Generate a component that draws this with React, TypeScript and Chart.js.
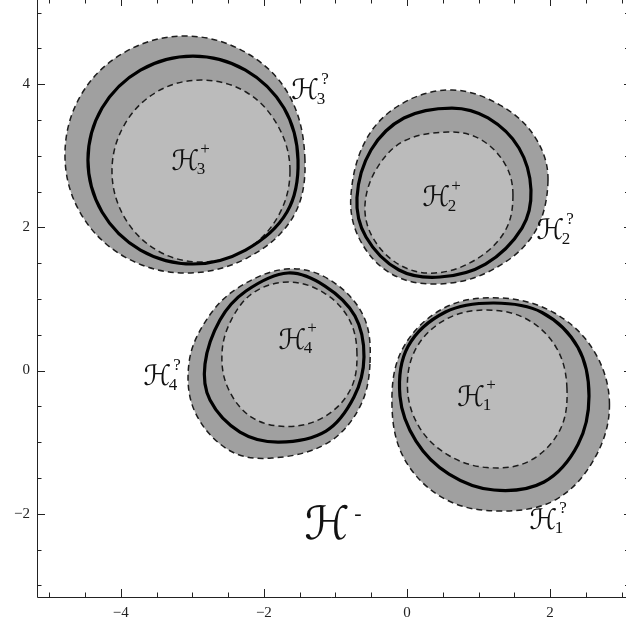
import React, { useEffect, useRef } from 'react';
import { Chart, registerables } from 'chart.js';

Chart.register(...registerables);

// Axis ranges and ticks
const xRange = [-5.171, 3.061];
const yRange = [-3.163, 5.175];
const xLabelTicks = [-4, -2, 0, 2];
const yLabelTicks = [-2, 0, 2, 4];
const xMinorTicks = [-5, -4.5, -3.5, -3, -2.5, -1.5, -1, -0.5, 0.5, 1, 1.5, 2.5, 3];
const yMinorTicks = [-3, -2.5, -1.5, -1, -0.5, 0.5, 1, 1.5, 2.5, 3, 3.5, 4.5, 5];

// Region 1 (lower right)
const blob1Outer: number[][] = [
  [2.83, -0.475], [2.614, 0.272], [2.055, 0.807], [1.314, 1.013], [0.531, 0.88], [-0.056, 0.314],
  [-0.21, -0.475], [-0.028, -1.25], [0.545, -1.802], [1.314, -1.962], [2.082, -1.802], [2.621, -1.229],
];
const blob1Solid: number[][] = [
  [2.544, -0.356], [2.39, 0.321], [1.887, 0.811], [1.216, 0.943], [0.538, 0.817], [0.014, 0.335],
  [-0.098, -0.356], [0.126, -0.985], [0.587, -1.446], [1.216, -1.669], [1.915, -1.557], [2.39, -1.034],
];
const blob1Inner: number[][] = [
  [2.236, -0.251], [2.092, 0.311], [1.677, 0.716], [1.118, 0.845], [0.556, 0.722], [0.131, 0.317],
  [0.007, -0.251], [0.175, -0.796], [0.58, -1.183], [1.118, -1.355], [1.705, -1.267], [2.134, -0.838],
];

// Region 2 (upper right)
const blob2Outer: number[][] = [
  [1.971, 2.661], [1.789, 3.261], [1.3, 3.708], [0.629, 3.918], [-0.056, 3.736], [-0.559, 3.247],
  [-0.783, 2.451], [-0.671, 1.851], [-0.238, 1.362], [0.391, 1.208], [1.132, 1.376], [1.761, 1.892],
];
const blob2Solid: number[][] = [
  [1.733, 2.521], [1.565, 3.108], [1.132, 3.527], [0.629, 3.666], [-0.042, 3.527], [-0.503, 3.08],
  [-0.699, 2.416], [-0.573, 1.865], [-0.112, 1.404], [0.461, 1.306], [1.097, 1.487], [1.607, 1.99],
];
const blob2Inner: number[][] = [
  [1.481, 2.451], [1.37, 2.884], [1.02, 3.233], [0.573, 3.331], [-0.042, 3.205], [-0.419, 2.828],
  [-0.587, 2.311], [-0.475, 1.851], [-0.098, 1.473], [0.391, 1.362], [0.95, 1.543], [1.37, 1.948],
];

// Region 3 (upper left)
const blob3Outer: number[][] = [
  [-1.426, 2.94], [-1.649, 3.848], [-2.264, 4.448], [-3.103, 4.672], [-3.941, 4.448], [-4.556, 3.848],
  [-4.78, 3.01], [-4.556, 2.186], [-3.941, 1.585], [-3.103, 1.362], [-2.236, 1.571], [-1.593, 2.144],
];
const blob3Solid: number[][] = [
  [-1.523, 2.94], [-1.719, 3.666], [-2.257, 4.197], [-2.991, 4.392], [-3.725, 4.197], [-4.262, 3.666],
  [-4.459, 2.94], [-4.262, 2.214], [-3.725, 1.683], [-2.991, 1.488], [-2.257, 1.683], [-1.677, 2.214],
];
const blob3Inner: number[][] = [
  [-1.635, 2.786], [-1.803, 3.415], [-2.25, 3.89], [-2.879, 4.057], [-3.501, 3.89], [-3.955, 3.422],
  [-4.123, 2.786], [-3.955, 2.151], [-3.501, 1.683], [-2.879, 1.515], [-2.257, 1.683], [-1.803, 2.151],
];

// Region 4 (middle)
const blob4Outer: number[][] = [
  [-0.517, 0.105], [-0.615, 0.775], [-1.097, 1.278], [-1.691, 1.418], [-2.376, 1.145], [-2.809, 0.698],
  [-3.047, 0.105], [-2.963, -0.579], [-2.481, -1.117], [-1.887, -1.222], [-1.125, -1.02], [-0.671, -0.531],
];
const blob4Solid: number[][] = [
  [-0.601, 0.189], [-0.727, 0.761], [-1.146, 1.18], [-1.663, 1.362], [-2.25, 1.11], [-2.614, 0.705],
  [-2.823, 0.091], [-2.753, -0.412], [-2.334, -0.859], [-1.789, -0.999], [-1.132, -0.845], [-0.741, -0.37],
];
const blob4Inner: number[][] = [
  [-0.699, 0.232], [-0.808, 0.715], [-1.156, 1.082], [-1.649, 1.236], [-2.145, 1.089], [-2.46, 0.698],
  [-2.586, 0.232], [-2.496, -0.258], [-2.162, -0.659], [-1.649, -0.782], [-1.146, -0.641], [-0.79, -0.265],
];

// Region labels
const labelNames = ['ℋ', 'ℋ', 'ℋ', 'ℋ', 'ℋ', 'ℋ', 'ℋ', 'ℋ', 'ℋ'];
const labelSubs = ['1', '1', '2', '2', '3', '3', '4', '4', ''];
const labelSups = ['+', '?', '+', '?', '+', '?', '+', '?', '-'];
const labelX = [0.894, 1.901, 0.405, 1.999, -3.103, -1.426, -1.607, -3.494, -1.118];
const labelY = [-0.356, -2.074, 2.437, 1.976, 2.94, 3.931, 0.44, -0.063, -2.116];

const OUTER_FILL = 'rgb(160,160,160)';
const INNER_FILL = 'rgb(187,187,187)';
const DASH_COLOR = '#1c1c1c';
const AXIS_COLOR = '#222';

const toPts = (arr: number[][]) => arr.map(([x, y]) => ({ x, y }));

const fmt = (v: number) => (v < 0 ? '\u2212' + Math.abs(v) : String(v));

const closeLoops = {
  id: 'closeLoops',
  afterDatasetUpdate(chart: any, args: any) {
    const line = args.meta && args.meta.dataset;
    if (line) {
      line._loop = true;
      line._fullLoop = true;
      line._segments = undefined;
      line._path = undefined;
      line._pointsUpdated = false;
    }
  },
};

const frameAndLabels = {
  id: 'frameAndLabels',
  afterDatasetsDraw(chart: any) {
    const { ctx } = chart;
    const xs = chart.scales.x;
    const ys = chart.scales.y;
    ctx.save();
    ctx.fillStyle = '#111';
    for (let i = 0; i < labelNames.length; i++) {
      const px = xs.getPixelForValue(labelX[i]);
      const py = ys.getPixelForValue(labelY[i]);
      const big = labelSubs[i] === '';
      const size = big ? 46 : 28;
      ctx.font = `${size}px "DejaVu Serif", "DejaVu Sans", serif`;
      ctx.textAlign = 'center';
      ctx.textBaseline = 'alphabetic';
      ctx.fillText(labelNames[i], px, py + size * 0.36);
      ctx.textBaseline = 'middle';
      if (big) {
        ctx.font = '22px "Liberation Serif", serif';
        ctx.fillText(labelSups[i], px + 31, py - 8);
      } else {
        ctx.font = '17px "Liberation Serif", serif';
        ctx.fillText(labelSups[i], px + 20, py - 10);
        ctx.fillText(labelSubs[i], px + 16, py + 10);
      }
    }
    ctx.restore();
  },
  afterDraw(chart: any) {
    const { ctx, chartArea } = chart;
    const xs = chart.scales.x;
    const ys = chart.scales.y;
    const { left, right, top, bottom } = chartArea;
    ctx.save();
    ctx.strokeStyle = AXIS_COLOR;
    ctx.lineWidth = 1;
    ctx.beginPath();
    ctx.moveTo(left + 0.5, top);
    ctx.lineTo(left + 0.5, bottom + 0.5);
    ctx.lineTo(right, bottom + 0.5);
    ctx.stroke();
    const drawX = (v: number, lenB: number, lenT: number) => {
      const p = Math.round(xs.getPixelForValue(v)) + 0.5;
      ctx.beginPath();
      ctx.moveTo(p, bottom);
      ctx.lineTo(p, bottom - lenB);
      ctx.moveTo(p, top);
      ctx.lineTo(p, top + lenT);
      ctx.stroke();
    };
    const drawY = (v: number, lenL: number, lenR: number) => {
      const p = Math.round(ys.getPixelForValue(v)) + 0.5;
      ctx.beginPath();
      ctx.moveTo(left, p);
      ctx.lineTo(left + lenL, p);
      ctx.moveTo(right, p);
      ctx.lineTo(right - lenR, p);
      ctx.stroke();
    };
    xLabelTicks.forEach((v) => drawX(v, 8, 6));
    xMinorTicks.forEach((v) => drawX(v, 4.5, 3.5));
    yLabelTicks.forEach((v) => drawY(v, 8, 2));
    yMinorTicks.forEach((v) => drawY(v, 4.5, 1));
    ctx.restore();
  },
};

export default function App() {
  const ref = useRef<HTMLCanvasElement>(null);
  useEffect(() => {
    const blobs = [
      { outer: blob1Outer, solid: blob1Solid, inner: blob1Inner },
      { outer: blob2Outer, solid: blob2Solid, inner: blob2Inner },
      { outer: blob3Outer, solid: blob3Solid, inner: blob3Inner },
      { outer: blob4Outer, solid: blob4Solid, inner: blob4Inner },
    ];
    const datasets: any[] = [];
    blobs.forEach((b) => {
      datasets.push({
        data: toPts(b.outer), showLine: true, pointRadius: 0, fill: 'shape',
        backgroundColor: OUTER_FILL, borderColor: DASH_COLOR, borderWidth: 1.5,
        borderDash: [6, 4], tension: 0.36, order: 3,
      });
      datasets.push({
        data: toPts(b.inner), showLine: true, pointRadius: 0, fill: 'shape',
        backgroundColor: INNER_FILL, borderColor: DASH_COLOR, borderWidth: 1.5,
        borderDash: [6, 4], tension: 0.36, order: 2,
      });
      datasets.push({
        data: toPts(b.solid), showLine: true, pointRadius: 0, fill: false,
        borderColor: '#000', borderWidth: 3.2, tension: 0.36, order: 1,
      });
    });
    const tickFont = { family: '"Liberation Serif", serif', size: 15 };
    const chart = new Chart(ref.current as HTMLCanvasElement, {
      type: 'scatter',
      data: { datasets },
      options: {
        animation: false,
        responsive: false,
        layout: { padding: 0 },
        plugins: { legend: { display: false }, tooltip: { enabled: false } },
        elements: { point: { radius: 0 } },
        scales: {
          x: {
            type: 'linear', min: xRange[0], max: xRange[1],
            grid: { display: false, drawTicks: false },
            border: { display: false },
            afterBuildTicks: (s: any) => { s.ticks = xLabelTicks.map((v) => ({ value: v })); },
            afterFit: (s: any) => { s.height = 28; s.paddingLeft = 0; s.paddingRight = 0; },
            ticks: { padding: 7, color: AXIS_COLOR, font: tickFont, maxRotation: 0, autoSkip: false, callback: (v: any) => fmt(Number(v)) },
          },
          y: {
            type: 'linear', min: yRange[0], max: yRange[1],
            grid: { display: false, drawTicks: false },
            border: { display: false },
            afterBuildTicks: (s: any) => { s.ticks = yLabelTicks.map((v) => ({ value: v })); },
            afterFit: (s: any) => { s.width = 37; s.paddingTop = 0; s.paddingBottom = 0; },
            ticks: { padding: 7, color: AXIS_COLOR, font: tickFont, autoSkip: false, callback: (v: any) => fmt(Number(v)) },
          },
        },
      },
      plugins: [closeLoops, frameAndLabels],
    } as any);
    return () => chart.destroy();
  }, []);
  return (
    <div style={{ position: 'fixed', left: 0, top: 0, width: 626, height: 625, background: '#fff' }}>
      <canvas ref={ref} width={626} height={625} style={{ display: 'block' }} />
    </div>
  );
}
